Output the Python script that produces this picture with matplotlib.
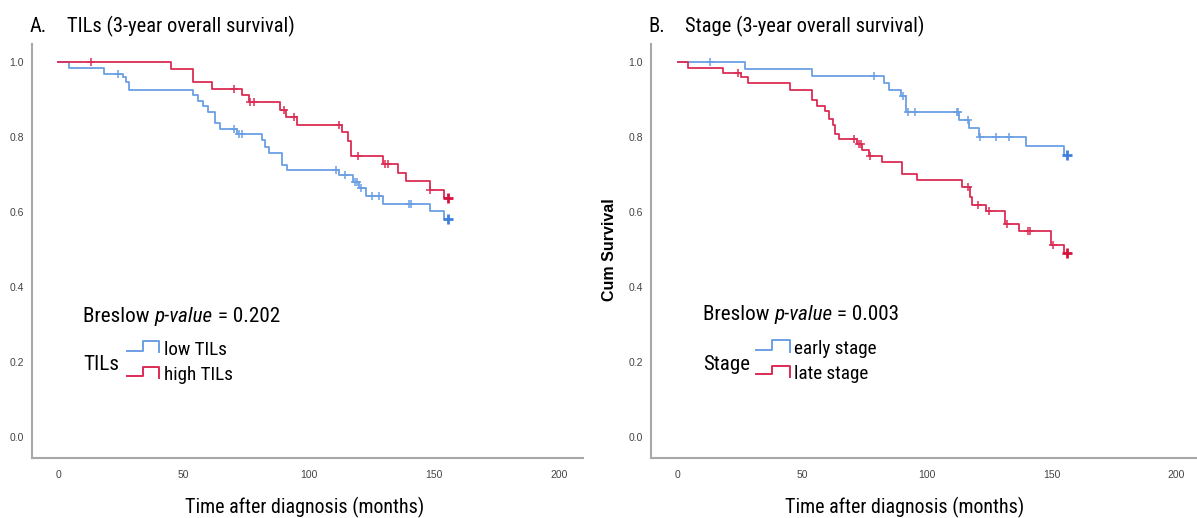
import numpy as np
import matplotlib
matplotlib.use("Agg")
import matplotlib.pyplot as plt
from matplotlib import font_manager
from matplotlib.lines import Line2D

# --- data (months, cumulative survival) ---
# A. TILs
low_tils_t = [0, 4.3, 18.4, 25.8, 27.0, 28.2, 53.7, 55.7, 57.9, 59.9, 62.8, 64.5, 71.4,
              81.4, 82.6, 84.2, 89.3, 91.3, 112.3, 117.8, 120.0, 122.8, 129.6, 148.4, 154.0]
low_tils_s = [1.0, 0.986, 0.970, 0.960, 0.947, 0.925, 0.913, 0.897, 0.884, 0.868, 0.839, 0.821, 0.809,
              0.793, 0.775, 0.758, 0.727, 0.712, 0.700, 0.682, 0.664, 0.642, 0.622, 0.602, 0.583]
low_tils_cens = [24.1, 70.4, 72.4, 73.4, 110.9, 114.6, 118.5, 119.3, 121.0, 125.1, 128.2, 140.0, 140.7, 155.8]

high_tils_t = [0, 45.0, 53.7, 61.6, 73.4, 76.3, 88.4, 90.9, 95.4, 113.2, 115.8, 117.1,
               129.6, 135.6, 138.8, 148.5, 154.0]
high_tils_s = [1.0, 0.982, 0.947, 0.928, 0.912, 0.893, 0.874, 0.855, 0.834, 0.813, 0.791, 0.750,
               0.729, 0.706, 0.683, 0.659, 0.637]
high_tils_cens = [13.2, 70.4, 76.7, 78.3, 90.2, 94.2, 112.3, 119.8, 130.3, 131.6, 148.6, 155.8]

# B. Stage
early_t = [0, 27.1, 53.9, 82.8, 84.8, 89.5, 91.7, 112.8, 116.8, 120.8, 139.9, 155.0]
early_s = [1.0, 0.982, 0.964, 0.945, 0.925, 0.909, 0.868, 0.846, 0.824, 0.801, 0.777, 0.752]
early_cens = [12.8, 78.8, 90.5, 92.2, 95.0, 112.1, 112.4, 116.3, 121.2, 127.8, 132.8, 156.3]

late_t = [0, 4.1, 18.1, 25.5, 28.1, 45.1, 53.9, 55.7, 59.2, 60.8, 62.1, 63.2, 64.5, 72.1, 74.1,
          76.8, 81.9, 89.9, 95.8, 113.9, 117.3, 117.9, 123.5, 131.2, 136.8, 149.9, 155.0]
late_s = [1.0, 0.985, 0.971, 0.960, 0.945, 0.927, 0.900, 0.884, 0.870, 0.850, 0.833, 0.810, 0.796,
          0.783, 0.765, 0.749, 0.734, 0.702, 0.686, 0.668, 0.640, 0.620, 0.604, 0.568, 0.550, 0.512, 0.492]
late_cens = [24.1, 70.8, 72.6, 73.6, 77.2, 116.3, 120.4, 124.9, 132.0, 140.7, 141.4, 150.6, 156.3]

x_ticks = [0, 50, 100, 150, 200]
y_ticks = [0.0, 0.2, 0.4, 0.6, 0.8, 1.0]

BLUE = "#6b9fe4"
RED = "#dc2d55"
BLUE_END = "#3f80dc"
RED_END = "#d6123f"

W, H = 1197, 518

# narrow sans if one is installed, otherwise plain Liberation Sans at smaller size
names = {f.name for f in font_manager.fontManager.ttflist}
NARROW = "Liberation Sans"
for cand in ["Roboto Condensed", "Liberation Sans Narrow", "Noto Sans Condensed", "Open Sans Condensed"]:
    if cand in names:
        NARROW = cand
        break
K = 1.0 if NARROW != "Liberation Sans" else 0.86
plt.rcParams["font.family"] = [NARROW, "DejaVu Sans"]


def fx(px):
    return px / W


def fy(py):
    return 1 - py / H


def km_curve(ax, t, s, cens, color, end_color):
    end = max(cens)
    xs = list(t) + [end]
    ys = list(s) + [s[-1]]
    ax.step(xs, ys, where="post", color=color, lw=1.3)
    idx = np.searchsorted(t, cens, side="right") - 1
    cy = np.array(s)[idx]
    ax.plot(cens[:-1], cy[:-1], "+", color=color, ms=6, mew=1.1)
    ax.plot(cens[-1:], cy[-1:], "+", color=end_color, ms=7, mew=2.0)


def style_axis(ax, xlim):
    ax.set_xlim(*xlim)
    ax.set_ylim(-0.056, 1.049)
    ax.set_xticks(x_ticks)
    ax.set_yticks(y_ticks)
    ax.set_yticklabels(["%.1f" % v for v in y_ticks])
    for sp in ["top", "right"]:
        ax.spines[sp].set_visible(False)
    for sp in ["left", "bottom"]:
        ax.spines[sp].set_color("#a8a8a8")
        ax.spines[sp].set_linewidth(1.5)
    ax.tick_params(length=0, labelsize=7.5, labelcolor="#444444")
    ax.tick_params(axis="y", pad=6)
    ax.tick_params(axis="x", pad=9)
    for lab in ax.get_xticklabels() + ax.get_yticklabels():
        lab.set_family(["Liberation Sans", "DejaVu Sans"])


def breslow(fig, x, y, value, size):
    r = fig.canvas.get_renderer()
    t1 = fig.text(fx(x), fy(y), "Breslow ", fontsize=size, va="baseline")
    bb = t1.get_window_extent(r)
    t2 = fig.text(bb.x1 / W, fy(y), "p-value", fontsize=size, style="italic", va="baseline")
    bb2 = t2.get_window_extent(r)
    fig.text(bb2.x1 / W, fy(y), " = " + value, fontsize=size, va="baseline")


def legend_step(fig, x0, xm, x1, ylo, yhi, yend, color):
    fig.add_artist(Line2D([fx(x0), fx(xm), fx(xm), fx(x1), fx(x1)],
                          [fy(ylo), fy(ylo), fy(yhi), fy(yhi), fy(yend)],
                          color=color, lw=1.4, transform=fig.transFigure))


fig = plt.figure(figsize=(W / 100, H / 100), dpi=100)

ax1 = fig.add_axes([fx(32), fy(458), (583 - 32) / W, (458 - 44) / H])
km_curve(ax1, low_tils_t, low_tils_s, low_tils_cens, BLUE, BLUE_END)
km_curve(ax1, high_tils_t, high_tils_s, high_tils_cens, RED, RED_END)
style_axis(ax1, (-10.4, 209.5))

ax2 = fig.add_axes([fx(651), fy(458), (W - 651) / W, (458 - 44) / H])
km_curve(ax2, early_t, early_s, early_cens, BLUE, BLUE_END)
km_curve(ax2, late_t, late_s, late_cens, RED, RED_END)
style_axis(ax2, (-10.8, 208.4))

# titles
fig.text(fx(30), fy(32.3), "A.", fontsize=14.8 * K, va="baseline")
fig.text(fx(66.7), fy(32.3), "TILs (3-year overall survival)", fontsize=14.8 * K, va="baseline")
fig.text(fx(648), fy(32.3), "B.", fontsize=14.8 * K, va="baseline")
fig.text(fx(685), fy(32.3), "Stage (3-year overall survival)", fontsize=14.8 * K, va="baseline")

# axis labels
fig.text(fx(185), fy(513.5), "Time after diagnosis (months)", fontsize=14.4 * K, va="baseline")
fig.text(fx(785), fy(513.5), "Time after diagnosis (months)", fontsize=14.4 * K, va="baseline")
fig.text(fx(609), fy(250), "Cum Survival", fontsize=11.5, fontweight="bold", rotation=90,
         ha="center", va="center", family=["Liberation Sans", "DejaVu Sans"])

# p-values
breslow(fig, 83, 321.7, "0.202", 15.2 * K)
breslow(fig, 703, 320, "0.003", 15.2 * K)

# legends
fig.text(fx(83), fy(370), "TILs", fontsize=15.2 * K, va="baseline")
legend_step(fig, 126.7, 143.3, 159.3, 350.7, 341, 352, BLUE)
legend_step(fig, 126.7, 143.3, 159.3, 376, 366.7, 378.3, RED)
fig.text(fx(164), fy(355), "low TILs", fontsize=13.8 * K, va="baseline")
fig.text(fx(164), fy(380), "high TILs", fontsize=13.8 * K, va="baseline")

fig.text(fx(703), fy(370), "Stage", fontsize=15 * K, va="baseline")
legend_step(fig, 755.7, 771.7, 790, 350, 340.3, 351.7, BLUE)
legend_step(fig, 755.7, 771.7, 790, 374.3, 366, 376.7, RED)
fig.text(fx(794), fy(354), "early stage", fontsize=13.8 * K, va="baseline")
fig.text(fx(794), fy(379.3), "late stage", fontsize=13.8 * K, va="baseline")

fig.savefig("out.png", dpi=100)
